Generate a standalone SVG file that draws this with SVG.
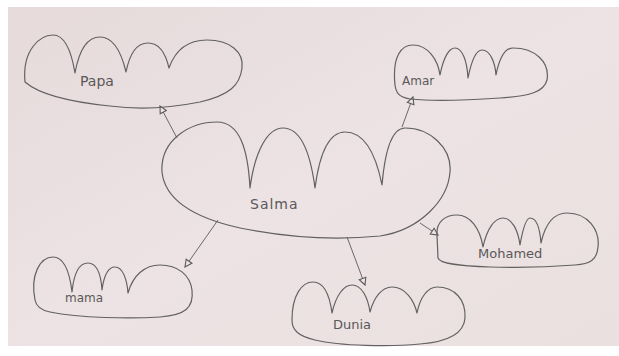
<svg xmlns="http://www.w3.org/2000/svg" width="619" height="356" viewBox="0 0 619 356">
<defs>
<linearGradient id="paper" x1="0" y1="0" x2="1" y2="1">
<stop offset="0" stop-color="#e6dadb"/>
<stop offset="0.5" stop-color="#ede3e4"/>
<stop offset="1" stop-color="#eae0e0"/>
</linearGradient>
<marker id="tri" markerUnits="userSpaceOnUse" markerWidth="9" markerHeight="9" refX="7" refY="3.5" orient="auto" viewBox="-1 -1 9 9">
<path d="M0,0 L7,3.5 L0,7 Z" fill="#ede3e4" stroke="#5a5a5a" stroke-width="1.1"/>
</marker>
<style>
.cloud{fill:none;stroke:#636162;stroke-width:1.2;stroke-linejoin:round}
.con{fill:none;stroke:#6a6869;stroke-width:1;marker-end:url(#tri)}
.lbl{font-family:"DejaVu Sans","Liberation Sans",sans-serif;fill:#5a5859;font-weight:normal}
</style>
</defs>
<rect x="0" y="0" width="619" height="356" fill="#ffffff"/>
<rect x="8" y="7" width="611" height="339" fill="url(#paper)"/>
<g id="connectors">
<line class="con" x1="177" y1="138" x2="160" y2="106"/>
<line class="con" x1="402" y1="127" x2="413" y2="97"/>
<line class="con" x1="218" y1="220" x2="185" y2="267"/>
<line class="con" x1="347" y1="237" x2="365" y2="285"/>
<line class="con" x1="420" y1="223" x2="438" y2="235"/>
</g>
<g id="papa">
<path class="cloud" d="M25,82 C22,50 40,35 53,35 C66,35 72,55 75,73 C80,45 90,37 100,37 C114,37 122,55 126,72 C130,52 138,43 148,43 C160,43 166,55 169,68 C176,48 190,40 207,40 C230,40 244,52 242,68 C240,85 230,95 200,102 C170,108 140,110 110,106 C70,102 40,95 25,82 Z"/>
<text class="lbl" x="80" y="86" font-size="14">Papa</text>
</g>
<g id="amar">
<path class="cloud" d="M395,85 C392,55 402,45 413,45 C428,45 438,60 440,75 C444,55 450,48 455,48 C462,48 467,60 468,78 C472,58 477,50 482,50 C490,50 495,62 496,75 C500,55 506,48 513,48 C535,48 550,62 547,80 C544,92 530,96 500,98 C470,100 430,101 410,99 C398,97 396,92 395,85 Z"/>
<text class="lbl" x="402" y="85" font-size="12">Amar</text>
</g>
<g id="salma">
<path class="cloud" d="M162,172 C160,140 190,122 217,122 C240,122 248,150 250,188 C255,150 268,128 283,128 C300,128 310,150 315,188 C320,150 330,132 345,132 C362,132 375,150 382,185 C385,150 392,128 405,128 C430,128 452,148 450,172 C448,200 420,230 380,236 C340,240 290,238 240,228 C195,218 165,200 162,172 Z"/>
<text class="lbl" x="250" y="209" font-size="14" letter-spacing="1">Salma</text>
</g>
<g id="mohamed">
<path class="cloud" d="M437,235 C436,222 445,215 457,215 C470,215 480,228 483,247 C487,228 495,218 503,218 C512,218 518,230 520,245 C523,228 526,218 530,218 C537,218 540,230 541,243 C545,225 553,213 567,213 C588,213 600,230 598,247 C597,260 590,264 575,265 C550,267 520,268 490,267 C460,266 440,264 438,258 Z"/>
<text class="lbl" x="478" y="258" font-size="13">Mohamed</text>
</g>
<g id="mama">
<path class="cloud" d="M35,300 C30,275 40,257 53,257 C65,257 70,275 72,292 C74,272 80,263 88,263 C97,263 101,275 102,290 C104,275 108,267 115,267 C123,267 127,280 128,293 C133,275 145,265 160,265 C178,265 190,275 192,290 C194,308 185,315 160,317 C130,319 80,318 50,312 C40,310 36,306 35,300 Z"/>
<text class="lbl" x="65" y="302" font-size="12">mama</text>
</g>
<g id="dunia">
<path class="cloud" d="M292,320 C292,295 302,282 313,282 C325,282 330,298 332,313 C336,295 344,285 352,285 C362,285 368,298 370,312 C374,297 382,287 392,287 C405,287 414,300 417,313 C420,297 428,287 437,287 C455,287 466,300 465,318 C464,335 445,342 420,344 C390,347 340,346 315,340 C298,336 292,330 292,320 Z"/>
<text class="lbl" x="333" y="329" font-size="13">Dunia</text>
</g>
</svg>
